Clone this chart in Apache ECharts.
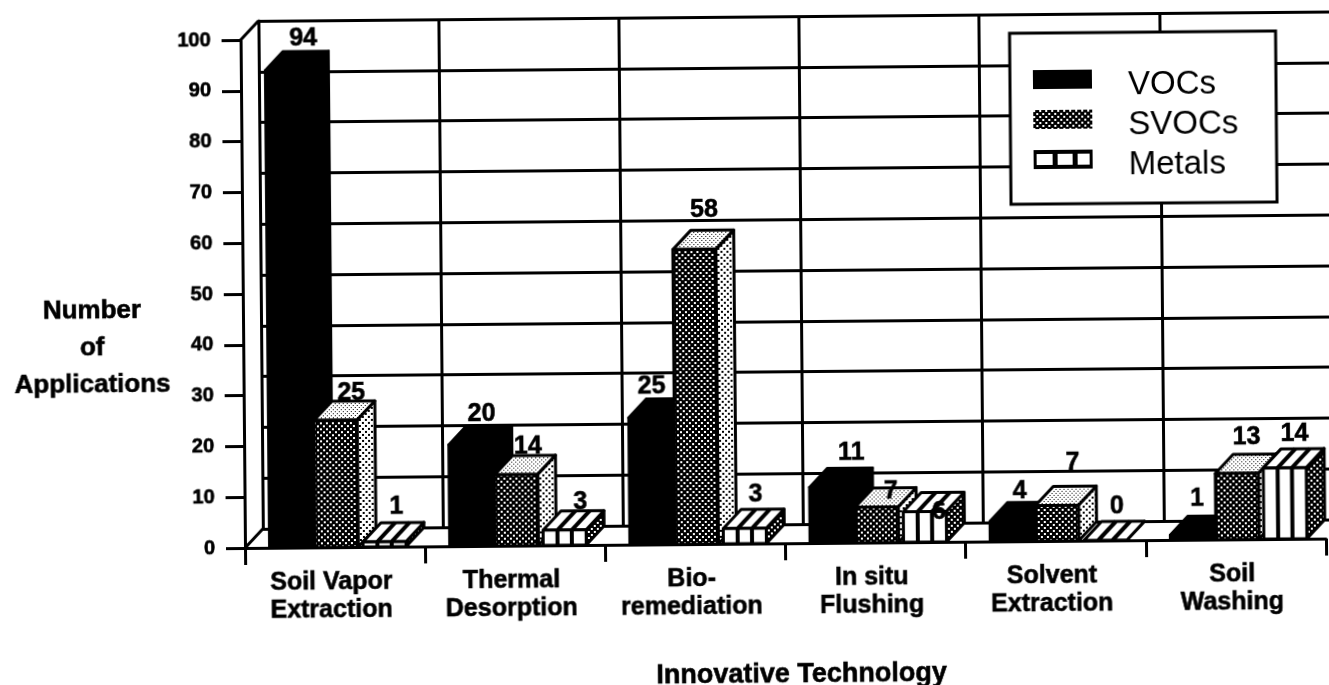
<!DOCTYPE html>
<html>
<head>
<meta charset="utf-8">
<style>
html,body{margin:0;padding:0;background:#fff;overflow:hidden;width:1329px;height:685px}
#c{position:absolute;left:0;top:0;width:1370px;height:710px;transform-origin:245px 548px;transform:rotate(-0.5deg)}
</style>
<script src="https://cdn.jsdelivr.net/npm/echarts@6/dist/echarts.min.js"></script>
</head>
<body>
<div id="c"></div>
<script>
const categories = ['Soil Vapor\nExtraction','Thermal\nDesorption','Bio-\nremediation','In situ\nFlushing','Solvent\nExtraction','Soil\nWashing'];
const vocs   = [94,20,25,11,4,1];
const svocs  = [25,14,58,7,7,13];
const metals = [1,3,3,6,0,14];
const seriesNames = ['VOCs','SVOCs','Metals'];

const DX = 18, DY = 19, BAR_W = 43, PITCH = 48, SHIFT = 1.5;
const FONT = '"Liberation Sans", Arial, sans-serif';
// the source places its value labels by hand: per-label nudges in pixels
const LABEL_NUDGE = [
  [[8,3],[3,4],[-7,3],[12,0],[0,4],[-3,-2]],
  [[5,7],[1,6],[-1,-5],[3,19],[5,-8],[-1,-2]],
  [[1,-1],[5,6],[0,0],[3,35],[1,0],[-1,0]]
];
const HEAVY = {textBorderColor:'#000',textBorderWidth:0.6};

function tile(size, draw){
  const c = document.createElement('canvas');
  c.width = c.height = size;
  const g = c.getContext('2d');
  draw(g);
  return {image:c, repeat:'repeat'};
}
const darkDots = tile(6, g=>{g.fillStyle='#000';g.fillRect(0,0,6,6);g.fillStyle='#fff';g.fillRect(0,0,2,2);g.fillRect(3,3,2,2);});
const midDots  = tile(6, g=>{g.fillStyle='#fff';g.fillRect(0,0,6,6);g.fillStyle='#000';g.fillRect(0,0,2,2);g.fillRect(3,3,2,2);});
const lightDots= tile(4, g=>{g.fillStyle='#fff';g.fillRect(0,0,4,4);g.fillStyle='#000';g.fillRect(0,0,1,1);g.fillRect(2,2,1,1);});

function box(x0,y0,h,w){
  const x1=x0+w, y1=y0+h;
  return {
    front:[[x0,y0],[x1,y0],[x1,y1],[x0,y1]],
    top:[[x0,y0],[x1,y0],[x1+DX,y0-DY],[x0+DX,y0-DY]],
    side:[[x1,y0],[x1+DX,y0-DY],[x1+DX,y1-DY],[x1,y1]]
  };
}
function poly(pts,fill,lw){return {type:'polygon',shape:{points:pts},style:{fill,stroke:'#000',lineWidth:lw,lineJoin:'round'},silent:true};}
function seg(x1,y1,x2,y2,w){return {type:'line',shape:{x1,y1,x2,y2},style:{stroke:'#000',lineWidth:w},silent:true};}

function barRenderer(kind){
  return function(params,api){
    const cat=api.value(0), val=api.value(1);
    const top=api.coord([cat,val]), base=api.coord([cat,0]);
    const x0=top[0]+SHIFT+(kind-1)*PITCH-BAR_W/2;
    const y0=top[1], h=base[1]-top[1];
    const kids=[];
    if(kind===0){
      const b=box(x0+2,y0,h,BAR_W+3);
      kids.push(poly(b.side,'#000',2),poly(b.top,'#000',2),poly(b.front,'#000',2));
    }else if(kind===1){
      const b=box(x0,y0,h,BAR_W);
      kids.push(poly(b.side,midDots,3),poly(b.top,lightDots,3),poly(b.front,darkDots,3));
    }else{
      const b=box(x0,y0,h,BAR_W);
      kids.push(poly(b.side,darkDots,3),poly(b.top,'#fff',3),poly(b.front,'#fff',3));
      [1,2].forEach(k=>{
        const x=x0+BAR_W*k/3;
        kids.push(seg(x,y0,x,y0+h,4),seg(x,y0,x+DX,y0-DY,4));
      });
    }
    const n=LABEL_NUDGE[kind][cat];
    kids.push({type:'text',silent:true,z2:50,style:{text:String(val),x:x0+BAR_W/2+11+n[0],y:y0-DY-15+n[1],
      align:'center',verticalAlign:'middle',fill:'#000',stroke:'#000',lineWidth:0.6,font:'bold 25px '+FONT}});
    return {type:'group',children:kids};
  };
}
function frameRenderer(params){
  const s=params.coordSys;
  return {type:'group',children:[
    seg(s.x,s.y,s.x+DX,s.y-DY,3),
    seg(s.x,s.y+s.height,s.x+DX,s.y+s.height-DY,3)
  ]};
}
const black={color:'#000',width:3};
const option={
  backgroundColor:'#fff',
  animation:false,
  title:{
    text:'Number\nof\nApplications',left:89,top:286,textAlign:'center',
    textStyle:Object.assign({color:'#000',fontFamily:FONT,fontWeight:'bold',fontSize:26,lineHeight:37},HEAVY)
  },
  grid:[
    {left:245,top:40,width:1081,height:508},
    {left:245+DX,top:40-DY,width:1081,height:508}
  ],
  legend:{
    left:1014,top:40,orient:'vertical',selectedMode:false,
    padding:[24,38,22,23],itemWidth:59,itemHeight:19,itemGap:-5,
    backgroundColor:'#fff',borderColor:'#000',borderWidth:3,
    formatter:'{t|{name}}',
    textStyle:{rich:{t:{color:'#000',fontFamily:FONT,fontSize:33,lineHeight:31,padding:[12,0,0,31]}}},
    data:[
      {name:'VOCs',icon:'rect',itemStyle:{color:'#000'}},
      {name:'SVOCs',icon:'rect',itemStyle:{color:darkDots}},
      {name:'Metals',icon:'path://M0 0H59V19H0Z M3 4V15H19V4Z M24 4V15H39V4Z M44 4V15H56V4Z',itemStyle:{color:'#000'}}
    ]
  },
  xAxis:[
    {type:'category',gridIndex:0,data:categories,
     axisLine:{lineStyle:black},
     axisTick:{show:true,length:17,lineStyle:black},
     axisLabel:Object.assign({interval:0,margin:21,color:'#000',fontFamily:FONT,fontWeight:'bold',fontSize:25,lineHeight:28,padding:[0,8,0,0]},HEAVY),
     name:'Innovative Technology',nameLocation:'middle',nameGap:118,
     nameTextStyle:Object.assign({color:'#000',fontFamily:FONT,fontWeight:'bold',fontSize:27,padding:[0,0,0,30]},HEAVY)},
    {type:'category',gridIndex:1,data:categories,
     axisLine:{lineStyle:black},axisTick:{show:false},axisLabel:{show:false},
     splitLine:{show:true,interval:0,lineStyle:black}}
  ],
  yAxis:[
    {type:'value',gridIndex:0,min:0,max:100,interval:10,
     axisLine:{show:true,lineStyle:black},
     axisTick:{show:true,length:19,lineStyle:black},
     splitLine:{show:false},
     axisLabel:Object.assign({margin:30,color:'#000',fontFamily:FONT,fontWeight:'bold',fontSize:20},HEAVY)},
    {type:'value',gridIndex:1,min:0,max:100,interval:10,
     axisLine:{show:true,lineStyle:black},axisTick:{show:false},axisLabel:{show:false},
     splitLine:{show:true,lineStyle:black}}
  ],
  series:[
    {type:'custom',name:'frame',xAxisIndex:0,yAxisIndex:0,data:[[0,0]],renderItem:frameRenderer,silent:true,z:2},
    ...[vocs,svocs,metals].map((arr,k)=>({
      type:'custom',name:seriesNames[k],xAxisIndex:0,yAxisIndex:0,z:3+k,silent:true,clip:false,
      itemStyle:{color:k===1?'#333':'#000'},
      encode:{x:0,y:1},
      data:arr.map((v,i)=>[i,v]),
      renderItem:barRenderer(k)
    }))
  ]
};
const chart=echarts.init(document.getElementById('c'),null,{renderer:'canvas'});
chart.setOption(option);
</script>
</body>
</html>
